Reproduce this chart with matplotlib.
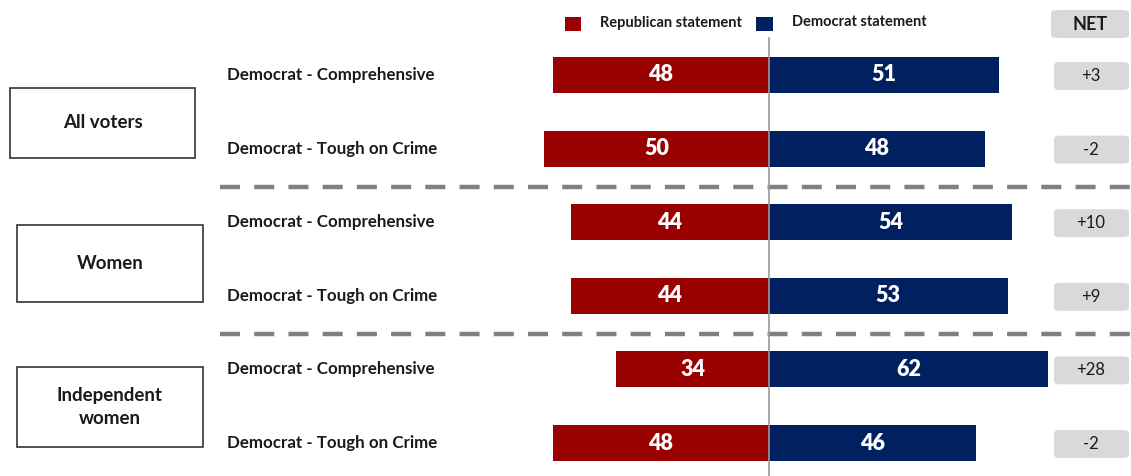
import numpy as np
import matplotlib
matplotlib.use("Agg")
from matplotlib import pyplot as plt
from matplotlib.patches import FancyBboxPatch, Rectangle

plt.rcParams['font.family'] = ['Lato', 'DejaVu Sans']

groups = ['All voters', 'Women', 'Independent\nwomen']
statements = ['Democrat - Comprehensive', 'Democrat - Tough on Crime'] * 3
republican = [48, 50, 44, 44, 34, 48]
democrat = [51, 48, 54, 53, 62, 46]
net = ['+3', '-2', '+10', '+9', '+28', '-2']

RED = '#990000'
BLUE = '#002060'
W, H = 1131, 476

fig = plt.figure(figsize=(W / 100, H / 100), dpi=100)
ax = fig.add_axes([0, 0, 1, 1])
# center line at pixel 769, ~4.5 px per point
scale = 4.5
ax.set_xlim(-769 / scale, (W - 769) / scale)
row_px = 73.6
ax.set_ylim((H - 75) / row_px, -75 / row_px)
ax.axis('off')

rows = np.arange(len(republican))
ax.barh(rows, [-v for v in republican], height=0.49, color=RED, zorder=2)
ax.barh(rows, democrat, height=0.49, color=BLUE, zorder=2)
for i in rows:
    ax.text(-republican[i] / 2, i, str(republican[i]), color='white', fontsize=15.5,
            fontweight='heavy', ha='center', va='center', zorder=3)
    ax.text(democrat[i] / 2, i, str(democrat[i]), color='white', fontsize=15.5,
            fontweight='heavy', ha='center', va='center', zorder=3)
    ax.text((227 - 769) / scale, i, statements[i], fontsize=12.2, fontweight='bold',
            color='#1a1a1a', ha='left', va='center')

# center axis line
ax.plot([0, 0], [(38 - 75) / row_px, (H - 75) / row_px], color='#999999', lw=1.2, zorder=4)

# dashed separators
for y in [1.52, 3.52]:
    ax.plot([(220 - 769) / scale, (W - 769) / scale], [y, y], color='#808080', lw=3.2,
            dashes=(4.5, 3.2), zorder=1)

# group boxes (pixel layout)
def px_box(x0, y0, x1, y1, **kw):
    return Rectangle((x0 / W, 1 - y1 / H), (x1 - x0) / W, (y1 - y0) / H,
                     transform=fig.transFigure, **kw)

boxes = [(10, 88, 195, 158), (17, 225, 203, 302), (17, 367, 203, 447)]
for (x0, y0, x1, y1), g in zip(boxes, groups):
    fig.patches.append(px_box(x0, y0, x1, y1, fill=False, ec='#333333', lw=1.2))
    fig.text((x0 + x1) / 2 / W, 1 - (y0 + y1) / 2 / H, g, ha='center', va='center',
             fontsize=13.5, fontweight='bold', color='#1a1a1a', linespacing=1.45)

# NET boxes
def net_box(x0, y0, x1, y1):
    return FancyBboxPatch((x0 / W, 1 - y1 / H), (x1 - x0) / W, (y1 - y0) / H,
                          boxstyle='round,pad=0,rounding_size=0.006',
                          transform=fig.transFigure, fc='#d9d9d9', ec='none')

fig.patches.append(net_box(1051, 10, 1129, 38))
fig.text(1090 / W, 1 - 24 / H, 'NET', ha='center', va='center', fontsize=13,
         fontweight='bold', color='#1a1a1a')
for i in rows:
    yc = 75 + row_px * i + 1
    fig.patches.append(net_box(1054, yc - 14, 1129, yc + 14))
    fig.text(1091 / W, 1 - yc / H, net[i], ha='center', va='center', fontsize=12,
             color='#1a1a1a')

# legend
fig.patches.append(px_box(565, 17, 581, 31, fc=RED, ec='none'))
fig.text(600 / W, 1 - 22.5 / H, 'Republican statement', ha='left', va='center',
         fontsize=10.5, fontweight='bold', color='#1a1a1a')
fig.patches.append(px_box(756, 17, 773, 31, fc=BLUE, ec='none'))
fig.text(792 / W, 1 - 22.5 / H, 'Democrat statement', ha='left', va='center',
         fontsize=10.5, fontweight='bold', color='#1a1a1a')

fig.savefig('out.png', dpi=100)
